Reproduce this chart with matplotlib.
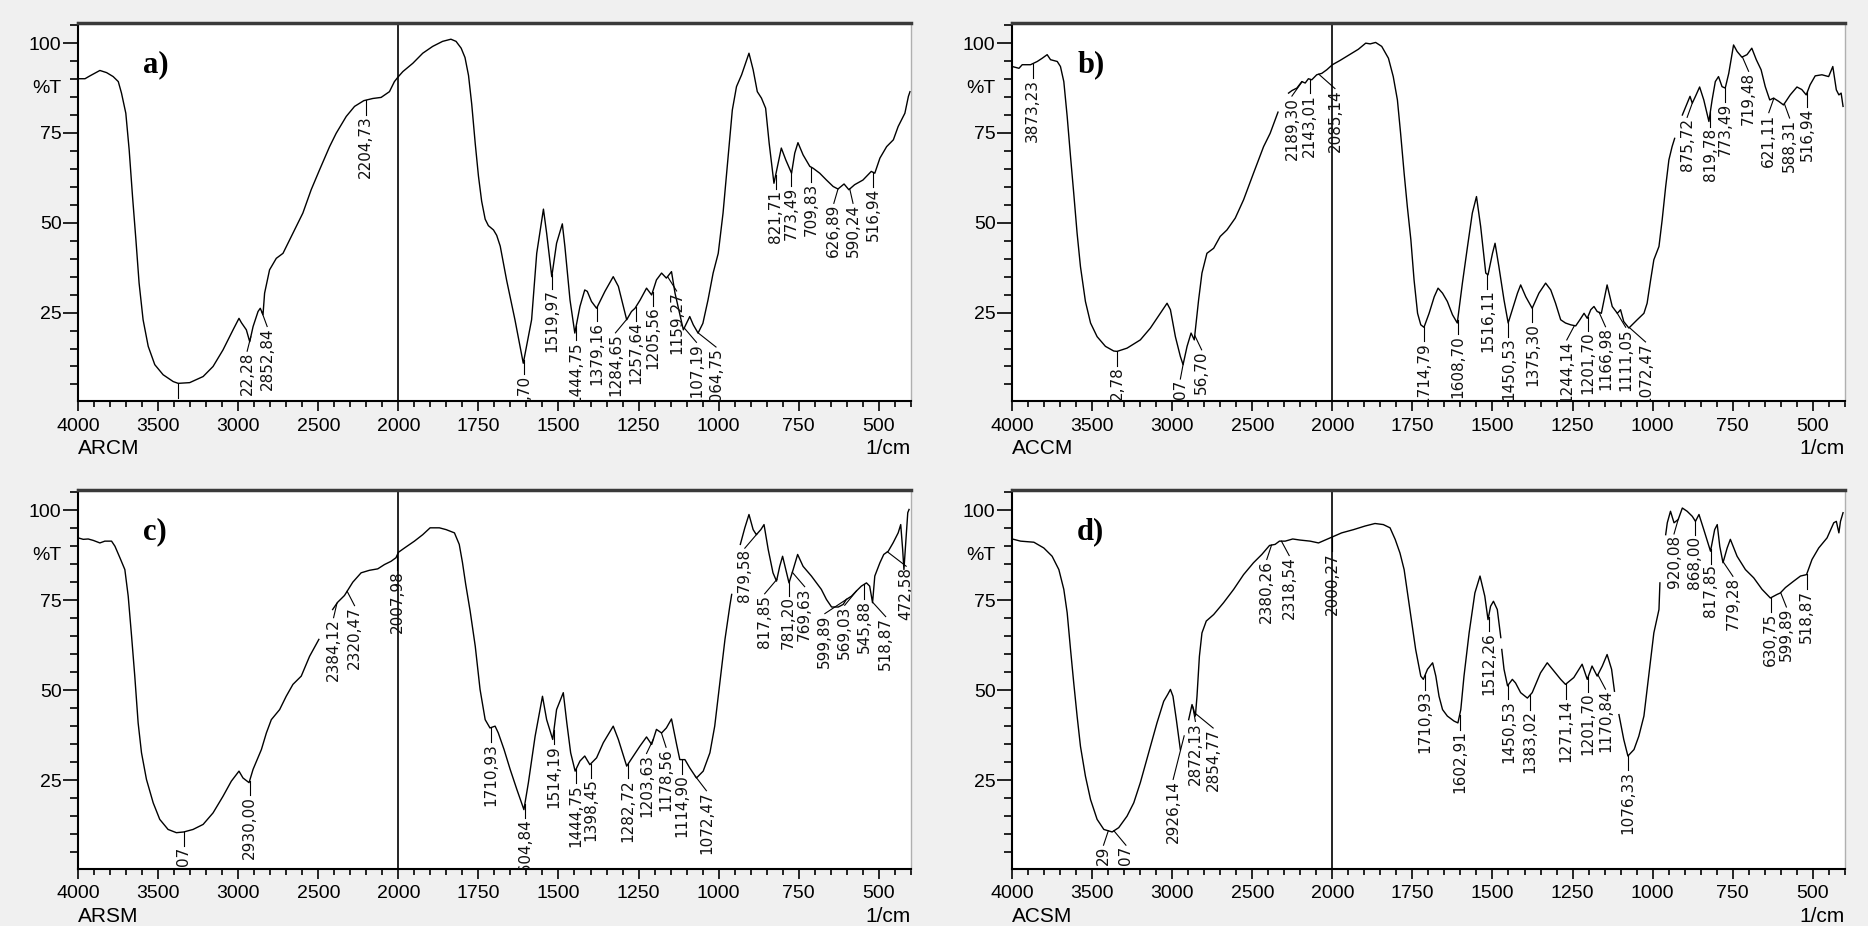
import numpy as np
import matplotlib
matplotlib.use('Agg')
import matplotlib.pyplot as plt
import matplotlib.transforms as mtransforms

plt.rcParams['font.family'] = ['Liberation Sans', 'DejaVu Sans']

nan = np.nan

# ---- spectra (wavenumber 1/cm, %T) ----
a_wn = [4000, 3958, 3927, 3865, 3823, 3782, 3750, 3730, 3703, 3682, 3661, 3640, 3620, 3595, 3563, 3522, 3470,
        3407, 3376, 3304, 3220, 3158, 3096, 3033, 2996, 2981, 2950, 2929, 2908, 2877, 2863, 2846, 2836, 2805,
        2763, 2721, 2659, 2597, 2545, 2493, 2430, 2389, 2326, 2274, 2216, 2160, 2108, 2056, 2025, 2000, 1986,
        1955, 1924, 1893, 1862, 1836, 1820, 1804, 1792, 1781, 1771, 1760, 1750, 1740, 1729, 1719, 1703, 1693,
        1682, 1662, 1636, 1610, 1584, 1568, 1547, 1537, 1521, 1506, 1488, 1480, 1464, 1449, 1433, 1418, 1410,
        1397, 1381, 1355, 1329, 1313, 1287, 1272, 1261, 1245, 1225, 1209, 1194, 1178, 1163, 1147, 1136, 1110,
        1090, 1079, 1064, 1049, 1033, 1017, 1001, 986, 970, 957, 944, 928, 905, 892, 879, 866, 853, 842, 827,
        814, 804, 790, 772, 762, 752, 736, 715, 705, 684, 663, 642, 627, 608, 593, 575, 549, 523, 512, 496,
        475, 454, 439, 418, 407, 402]
a_t = [90.1, 90.1, 90.9, 92.4, 91.8, 90.7, 89.3, 86.1, 80.5, 70.3, 57.3, 45.3, 33.2, 23.0, 15.6, 10.5, 7.7,
       5.8, 5.3, 5.5, 7.2, 10.0, 14.6, 20.2, 23.4, 22.2, 20.2, 16.9, 21.1, 25.3, 26.2, 24.4, 30.4, 36.9,
       40.1, 41.5, 47.1, 52.7, 59.2, 64.7, 71.2, 74.9, 79.6, 82.4, 84.0, 84.6, 84.9, 86.5, 89.3, 90.7, 92.1,
       94.4, 97.2, 99.1, 100.5, 101.1, 100.5, 98.6, 96.0, 91.0, 83.0, 72.0, 63.0, 56.0, 51.0, 49.2, 48.0, 46.5,
       43.5, 34.0, 23.0, 10.9, 23.0, 41.5, 53.8, 47.1, 35.0, 44.3, 49.7, 43.4, 28.5, 19.3, 26.7, 31.3, 30.9,
       28.1, 26.2, 30.9, 35.0, 32.3, 23.0, 25.3, 26.2, 28.5, 31.8, 29.9, 34.1, 36.0, 34.6, 36.4, 30.4, 20.2,
       23.9, 21.6, 19.3, 22.0, 28.5, 36.0, 41.5, 52.7, 68.4, 81.4, 87.9, 91.2, 97.2, 92.6, 86.5, 84.7, 81.9, 72.2, 61.0,
       66.6, 70.8, 67.5, 63.8, 69.4, 72.3, 68.9, 65.7, 65.2, 63.8, 61.9, 60.1, 59.4, 60.8, 59.2, 60.6, 61.9, 64.3, 63.8, 68.0,
       71.2, 73.1, 76.8, 80.5, 85.2, 86.5]

b_wn = [4000, 3958, 3938, 3886, 3844, 3813, 3782, 3761, 3719, 3699, 3678, 3657, 3636, 3616, 3595, 3574, 3543,
        3511, 3470, 3418, 3366, 3345, 3283, 3200, 3137, 3075, 3033, 3012, 2981, 2950, 2933, 2908, 2883, 2863,
        2836, 2815, 2784, 2742, 2701, 2659, 2607, 2555, 2493, 2430, 2389, 2340, nan, 2274, 2253, 2222, 2191,
        2170, 2150, 2129, 2098, 2066, 2035, 2000, 1976, 1945, 1919, 1896, 1882, 1865, 1846, 1825, 1810, 1797,
        1787, 1776, 1766, 1755, 1745, 1734, 1724, 1714, 1698, 1682, 1670, 1656, 1641, 1625, 1610, 1594, 1578,
        1563, 1550, 1537, 1521, 1514, 1500, 1492, 1480, 1464, 1451, 1438, 1422, 1412, 1396, 1376, 1355, 1334,
        1318, 1303, 1287, 1272, 1256, 1240, 1227, 1214, 1204, 1193, 1183, 1173, 1160, 1142, 1126, 1110, 1100,
        1090, 1074, 1048, 1027, 1017, 1006, 996, 980, 970, 959, 949, 939, 931, nan, 907, 892, 883, 876, 866,
        853, 840, 824, 814, 804, 794, 783, 773, 762, 747, 736, 721, 705, 690, 676, 661, 648, 634, 622, 606,
        591, 570, 549, 534, 520, 508, 492, 471, 450, 437, 426, 418, 411, 405]
b_t = [93.5, 93.0, 94.0, 94.0, 94.9, 95.8, 96.8, 95.4, 94.9, 93.5, 89.3, 79.6, 68.4, 58.2, 47.1, 37.8, 28.1,
       22.1, 18.3, 15.6, 14.3, 14.2, 15.1, 17.4, 20.7, 24.8, 27.6, 25.8, 18.3, 12.8, 10.5, 15.6, 19.3, 17.4,
       28.5, 36.0, 41.5, 42.9, 46.2, 48.0, 51.3, 56.4, 63.8, 71.2, 74.9, 80.8, nan, 86.1, 86.8, 87.5, 89.3,
       88.9, 90.1, 89.8, 91.2, 91.6, 92.6, 94.0, 95.2, 96.9, 98.3, 100.0, 99.8, 100.2, 99.1, 95.8, 90.7, 84.2,
       74.9, 63.8, 54.5, 45.3, 34.1, 24.8, 21.6, 20.9, 24.8, 29.4, 31.8, 30.4, 28.1, 24.4, 22.1, 33.2, 43.4,
       52.7, 57.3, 49.0, 36.0, 35.5, 41.5, 44.3, 37.8, 28.5, 22.1, 25.8, 30.4, 32.7, 29.4, 26.2, 30.4, 33.2,
       31.3, 27.6, 23.0, 22.1, 21.6, 21.3, 23.0, 24.8, 23.4, 25.8, 26.7, 25.3, 24.8, 32.7, 26.7, 24.8, 25.8,
       22.5, 20.7, 23.0, 24.8, 27.6, 34.1, 39.7, 43.4, 50.8, 60.1, 67.5, 71.2, 73.5, nan, 80.0, 83.3, 85.2, 83.3, 85.2,
       87.8, 84.2, 78.2, 84.2, 89.3, 90.7, 87.9, 87.5, 91.6, 99.5, 97.7, 96.1, 96.8, 98.6, 95.4, 92.6, 87.9, 84.2, 84.7, 83.8,
       82.8, 85.6, 87.8, 87.1, 85.6, 88.4, 90.9, 91.2, 90.7, 93.5, 87.0, 85.6, 86.1, 82.4]

c_wn = [4000, 3969, 3938, 3906, 3865, 3834, 3792, 3771, 3740, 3709, 3688, 3667, 3647, 3626, 3605, 3574, 3532,
        3491, 3439, 3387, 3341, 3283, 3220, 3158, 3096, 3044, 2996, 2971, 2933, 2908, 2856, 2825, 2794, 2742,
        2701, 2659, 2607, 2555, 2497, nan, 2411, 2380, 2337, 2316, 2285, 2233, 2181, 2129, 2087, 2046, 2015,
        2000, 1981, 1950, 1924, 1901, 1872, 1851, 1825, 1810, 1800, 1790, 1776, 1760, 1745, 1729, 1714, 1698,
        1688, 1679, 1670, 1651, 1630, 1608, 1594, 1573, 1550, 1537, 1518, 1506, 1485, 1474, 1462, 1448, 1433,
        1418, 1402, 1381, 1360, 1329, 1313, 1287, 1266, 1246, 1225, 1209, 1194, 1178, 1163, 1147, 1131, 1121,
        1105, 1090, 1069, 1048, 1027, 1012, 996, 980, 965, 959, nan, 932, 918, 905, 892, 882, 868, 858, 845,
        830, 819, 809, 800, 790, 780, 767, 753, 736, 710, 679, 663, 647, 626, 611, 601, 585, 570, 554, 538,
        528, 519, 512, 496, 484, 470, 455, 439, 431, 425, 421, 414, 409, 405]
c_t = [92.3, 91.9, 92.0, 91.6, 90.9, 91.4, 91.4, 90.0, 86.8, 83.5, 76.1, 65.0, 53.9, 40.9, 32.6, 25.2, 18.7,
       14.1, 11.3, 10.4, 10.6, 11.3, 12.7, 15.9, 20.5, 24.7, 27.5, 25.6, 24.3, 28.0, 33.5, 38.1, 41.8, 44.6,
       48.3, 51.6, 53.9, 59.4, 64.1, nan, 72.4, 74.4, 76.3, 77.8, 80.0, 82.6, 83.3, 83.7, 84.9, 85.8, 86.8,
       88.3, 89.5, 91.4, 93.2, 95.1, 95.1, 94.6, 93.7, 90.5, 85.5, 79.5, 72.0, 62.2, 50.2, 41.8, 39.5, 40.0,
       38.1, 35.8, 33.5, 28.0, 22.4, 16.8, 24.3, 37.2, 48.3, 41.8, 36.3, 44.6, 49.3, 40.9, 32.6, 27.5, 30.3,
       31.7, 29.3, 31.2, 35.4, 40.0, 36.3, 28.9, 31.7, 34.4, 37.0, 34.9, 39.1, 38.1, 39.5, 42.0, 34.9, 30.7,
       30.7, 28.4, 25.6, 27.5, 32.6, 40.0, 52.0, 64.1, 73.3, 76.6, nan, 90.5, 95.1, 98.8, 94.6, 93.2, 94.6, 96.0, 89.1,
       82.6, 80.3, 84.4, 87.2, 83.5, 79.8, 83.5, 87.7, 84.4, 81.7, 78.0, 75.2, 73.1, 73.1, 73.8, 75.2, 76.1, 77.5, 78.9, 79.8,
       78.9, 74.3, 81.7, 85.4, 87.7, 88.6, 90.9, 93.7, 96.0, 89.1, 83.5, 92.8, 99.3, 100.2]

d_wn = [4000, 3948, 3865, 3803, 3751, 3709, 3678, 3657, 3636, 3616, 3595, 3574, 3543, 3511, 3470, 3428, 3376,
        3335, 3283, 3241, 3200, 3148, 3096, 3054, 3029, 3012, 2996, 2975, 2950, nan, 2898, 2877, 2867, 2856,
        2846, 2831, 2815, 2788, 2742, 2680, 2617, 2555, 2493, 2441, 2393, 2358, 2331, 2295, 2248, 2202, 2139,
        2087, 2046, 2000, 1971, 1934, 1898, 1867, 1841, 1820, 1804, 1789, 1776, 1755, 1740, 1724, 1716, 1703,
        1687, 1677, 1667, 1656, 1641, 1620, 1608, 1599, 1589, 1573, 1555, 1539, 1524, 1514, 1506, 1497, 1485,
        1474, nan, 1471, 1464, 1453, 1438, 1428, 1412, 1391, 1376, 1350, 1329, 1308, 1287, 1272, 1246, 1220,
        1204, 1189, 1173, 1157, 1142, 1128, 1119, nan, 1105, 1090, 1077, 1058, 1043, 1027, 1012, 996, 980, 977,
        nan, 959, 954, 944, 933, 920, 907, 892, 876, 866, 855, 840, 819, 806, 798, 790, 780, 767, 757, 736,
        710, 684, 658, 632, 611, 601, 585, 559, 538, 519, 502, 481, 455, 434, 426, 418, 413, 405]
d_t = [92.0, 91.4, 91.1, 89.5, 87.2, 83.5, 78.0, 71.5, 61.3, 52.0, 42.8, 34.4, 26.1, 19.6, 14.1, 11.3, 10.6,
       11.8, 15.0, 18.7, 24.3, 32.6, 40.9, 46.9, 48.8, 50.2, 48.3, 41.8, 33.5, nan, 41.8, 46.0, 44.6, 42.8,
       48.3, 59.4, 65.9, 69.2, 71.0, 74.3, 78.0, 82.1, 85.4, 87.7, 90.2, 90.5, 91.4, 91.4, 92.0, 91.7, 91.4,
       90.9, 91.7, 92.6, 93.7, 94.6, 95.6, 96.3, 96.0, 95.1, 91.9, 88.1, 83.5, 70.6, 61.3, 53.9, 53.0, 55.8,
       57.6, 53.9, 48.3, 44.6, 42.8, 41.4, 40.9, 44.6, 53.9, 65.9, 77.0, 81.7, 76.1, 69.6, 73.3, 74.7, 72.4,
       64.6, nan, 61.3, 55.8, 51.2, 53.0, 52.0, 49.3, 47.8, 49.3, 54.8, 57.6, 55.3, 53.0, 51.6, 53.5, 57.2,
       53.0, 56.7, 53.9, 56.7, 59.9, 55.8, 49.7, nan, 43.2, 36.3, 31.7, 33.5, 37.2, 42.8, 53.9, 65.9, 72.4, 79.8,
       nan, 93.2, 96.5, 99.7, 96.5, 97.4, 100.6, 99.7, 98.3, 96.9, 98.8, 94.6, 88.6, 94.6, 96.0, 89.9, 85.4, 89.5, 91.9, 87.2,
       83.5, 81.2, 78.0, 75.6, 76.6, 77.0, 78.5, 80.3, 81.7, 82.1, 86.3, 89.5, 92.3, 96.5, 96.9, 93.7, 96.9, 99.3]

# ---- peak labels (position 1/cm, text as printed) ----
a_peaks = [3376, 2922.28, 2852.84, 2204.73, 1608, 1519.97, 1444.75, 1379.16, 1284.65, 1257.64, 1205.56,
           1159.27, 1107.19, 1064.75, 821.71, 773.49, 709.83, 626.89, 590.24, 516.94]
a_labels = ["", "22,28", "2852,84", "2204,73", ",70", "1519,97", "1444,75", "1379,16", "1284,65", "1257,64",
            "1205,56", "1159,27", "1107,19", "1064,75", "821,71", "773,49", "709,83", "626,89", "590,24", "516,94"]

b_peaks = [3873.23, 3345, 2933, 2860, 2189.30, 2143.01, 2085.14, 1714.79, 1608.70, 1516.11, 1450.53, 1375.30,
           1244.14, 1201.70, 1166.98, 1111.05, 1072.47, 875.72, 819.78, 773.49, 719.48, 621.11, 588.31, 516.94]
b_labels = ["3873,23", "2,78", "07", "56,70", "2189,30", "2143,01", "2085,14", "1714,79", "1608,70", "1516,11",
            "1450,53", "1375,30", "1244,14", "1201,70", "1166,98", "1111,05", "1072,47", "875,72", "819,78",
            "773,49", "719,48", "621,11", "588,31", "516,94"]

c_peaks = [3341, 2930.00, 2384.12, 2320.47, 2007.98, 1710.93, 1604.84, 1514.19, 1444.75, 1398.45, 1282.72,
           1203.63, 1178.56, 1114.90, 1072.47, 879.58, 817.85, 781.20, 769.63, 599.89, 569.03, 545.88, 518.87, 472.58]
c_labels = ["07", "2930,00", "2384,12", "2320,47", "2007,98", "1710,93", "1604,84", "1514,19", "1444,75",
            "1398,45", "1282,72", "1203,63", "1178,56", "1114,90", "1072,47", "879,58", "817,85", "781,20",
            "769,63", "599,89", "569,03", "545,88", "518,87", "472,58"]

d_peaks = [3400, 3365, 2926.14, 2872.13, 2854.77, 2380.26, 2318.54, 2000.27, 1710.93, 1602.91, 1512.26, 1450.53,
           1383.02, 1271.14, 1201.70, 1170.84, 1076.33, 920.08, 868.00, 817.85, 779.28, 630.75, 599.89, 518.87]
d_labels = ["29", "07", "2926,14", "2872,13", "2854,77", "2380,26", "2318,54", "2000,27", "1710,93", "1602,91",
            "1512,26", "1450,53", "1383,02", "1271,14", "1201,70", "1170,84", "1076,33", "920,08", "868,00",
            "817,85", "779,28", "630,75", "599,89", "518,87"]

names = ["ARCM", "ACCM", "ARSM", "ACSM"]
letters = ["a)", "b)", "c)", "d)"]

# where the software pushed a label sideways (text x in 1/cm, optional text top in %T)
a_shift = {"22,28": 2945, "2852,84": 2820, "1284,65": 1322, "1159,27": 1131, "1107,19": 1069,
           "1064,75": 1008, "626,89": 640, "590,24": 580}
b_shift = {"07": 2950, "56,70": 2817, "2189,30": 2253, "2085,14": 1992, "1244,14": 1268, "1166,98": 1147,
           "1111,05": 1084, "1072,47": 1022, "875,72": 892, "719,48": 700, "621,11": 637, "588,31": 572}
c_shift = {"2384,12": 2405, "2320,47": 2274, "1203,63": 1225, "1178,56": 1164, "1072,47": 1038,
           "879,58": 918, "817,85": 856, "769,63": 731, "599,89": 668, "569,03": 606, "518,87": 478,
           "472,58": 414}
d_shift = {"29": 3430, "07": 3290, "2926,14": (2995, 25.2), "2872,13": 2856, "2854,77": 2745,
           "2380,26": 2410, "2318,54": 2270, "1170,84": 1147, "920,08": 933, "779,28": 749, "599,89": 582}


def fwd(x):
    x = np.asarray(x, dtype=float)
    return np.where(x > 2000, 2000 + (x - 2000) / 2.0, x)


def inv(u):
    u = np.asarray(u, dtype=float)
    return np.where(u > 2000, 2000 + (u - 2000) * 2.0, u)


def panel(ax, wn, t, peaks, labels, shift, name, letter):
    wn = np.array(wn, dtype=float)
    t = np.array(t, dtype=float)
    ax.set_xscale('function', functions=(fwd, inv))
    ax.plot(wn, t, color='k', lw=1.0)
    ax.set_xlim(4000, 400)
    ax.set_ylim(0.4, 105.7)
    ax.axvline(2000, color='k', lw=1.2)

    ok = ~np.isnan(wn)
    xs = wn[ok][::-1]
    ys = t[ok][::-1]
    for p, s in zip(peaks, labels):
        yp = np.interp(p, xs, ys)
        sh = shift.get(s, p)
        if isinstance(sh, tuple):
            tx, ty = sh
        else:
            tx, ty = sh, yp - 4.0
        ax.plot([p, tx], [yp, ty], color='k', lw=0.8)
        if s:
            ax.text(tx, ty - 0.2, s, rotation=90, ha='center', va='top', fontsize=11,
                    family='DejaVu Sans', color='#111111', clip_on=True)

    major = [4000, 3500, 3000, 2500, 2000, 1750, 1500, 1250, 1000, 750, 500]
    minor = [v for v in range(3900, 2000, -100) if v % 500] + [v for v in range(1950, 399, -50) if v % 250]
    ax.set_xticks(major)
    ax.set_xticklabels([str(v) for v in major])
    ax.set_xticks(minor, minor=True)
    ax.set_yticks([25, 50, 75, 100])
    ax.set_yticks([v for v in range(5, 106, 5) if v % 25], minor=True)
    ax.tick_params(axis='x', which='major', length=7, width=1.2, pad=5, labelsize=14)
    ax.tick_params(axis='x', which='minor', length=4, width=1.2)
    ax.tick_params(axis='y', which='major', length=11, width=1.2, pad=1, labelsize=14)
    ax.tick_params(axis='y', which='minor', length=5.5, width=1.2)

    ax.spines['top'].set_linewidth(2.5)
    ax.spines['top'].set_color('#3a3a3a')
    ax.spines['right'].set_linewidth(1.0)
    ax.spines['right'].set_color('#b0b0b0')
    ax.spines['left'].set_linewidth(1.5)
    ax.spines['bottom'].set_linewidth(1.5)

    tr = mtransforms.blended_transform_factory(ax.transAxes, ax.transData)
    ax.text(-0.02, 87.5, '%T', transform=tr, ha='right', va='center', fontsize=14)
    ax.text(0.0, -0.125, name, transform=ax.transAxes, ha='left', va='center', fontsize=15)
    ax.text(1.0, -0.125, '1/cm', transform=ax.transAxes, ha='right', va='center', fontsize=15)
    ax.text(0.078, 0.87, letter, transform=ax.transAxes, ha='left', va='baseline', fontsize=22,
            fontweight='bold', family='Liberation Serif')


fig = plt.figure(figsize=(18.68, 9.26), dpi=100, facecolor='#f0f0f0')
rects = [[0.0419, 0.5670, 0.4456, 0.4085], [0.5419, 0.5670, 0.4456, 0.4085],
         [0.0419, 0.0619, 0.4456, 0.4093], [0.5419, 0.0619, 0.4456, 0.4093]]
data = [(a_wn, a_t, a_peaks, a_labels, a_shift), (b_wn, b_t, b_peaks, b_labels, b_shift),
        (c_wn, c_t, c_peaks, c_labels, c_shift), (d_wn, d_t, d_peaks, d_labels, d_shift)]
for r, (wn, t, pk, lb, sh), nm, lt in zip(rects, data, names, letters):
    ax = fig.add_axes(r)
    ax.set_facecolor('white')
    panel(ax, wn, t, pk, lb, sh, nm, lt)

fig.savefig('out.png', dpi=100, facecolor=fig.get_facecolor())
